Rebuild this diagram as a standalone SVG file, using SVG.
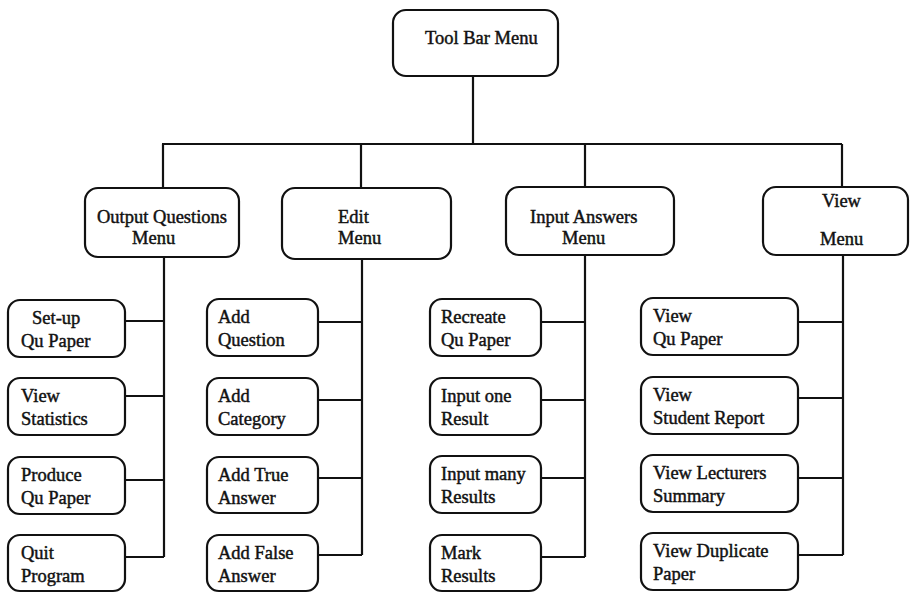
<svg xmlns="http://www.w3.org/2000/svg" width="911" height="593" viewBox="0 0 911 593">
<style>
.box{fill:#fff;stroke:#111;stroke-width:2.2}
.ln{fill:none;stroke:#111;stroke-width:2.2}
text{font-family:"Liberation Serif","Times New Roman",serif;font-size:18.5px;fill:#111;stroke:#111;stroke-width:0.45}
</style>
<rect width="911" height="593" fill="#fff"/>
<g id="connectors">
<path class="ln" d="M473 76V144M162 144H842M163 144V188M361 144V188M585 144V187M842 144V187"/>
<path class="ln" d="M164 257V557M125 321H164M125 396H164M125 480H164M125 557H164"/>
<path class="ln" d="M362 259V555M318 322H362M318 400H362M318 478H362M318 555H362"/>
<path class="ln" d="M585 255V557M541 322H585M541 400H585M541 478H585M541 557H585"/>
<path class="ln" d="M843 255V555M798 322H843M798 398H843M798 478H843M798 555H843"/>
</g>
<g id="toolbar"><rect class="box" x="393" y="10" width="165" height="66" rx="13"/><text x="425" y="44">Tool Bar Menu</text></g>
<g id="output-menu"><rect class="box" x="85" y="188" width="154" height="69" rx="13"/><text x="97" y="223">Output Questions</text><text x="132" y="244">Menu</text></g>
<g id="edit-menu"><rect class="box" x="282" y="188" width="169" height="71" rx="13"/><text x="338" y="223">Edit</text><text x="338" y="244">Menu</text></g>
<g id="input-menu"><rect class="box" x="506" y="187" width="168" height="68" rx="13"/><text x="530" y="223">Input Answers</text><text x="562" y="244">Menu</text></g>
<g id="view-menu"><rect class="box" x="763" y="187" width="145" height="68" rx="13"/><text x="822" y="207">View</text><text x="820" y="245">Menu</text></g>

<g id="setup"><rect class="box" x="8" y="300" width="117" height="57" rx="12"/><text x="32" y="324">Set-up</text><text x="21" y="347">Qu Paper</text></g>
<g id="viewstats"><rect class="box" x="8" y="378" width="117" height="57" rx="12"/><text x="21" y="402">View</text><text x="21" y="425">Statistics</text></g>
<g id="produce"><rect class="box" x="8" y="457" width="117" height="57" rx="12"/><text x="21" y="481">Produce</text><text x="21" y="504">Qu Paper</text></g>
<g id="quit"><rect class="box" x="8" y="535" width="117" height="56" rx="12"/><text x="21" y="559">Quit</text><text x="21" y="582">Program</text></g>

<g id="addq"><rect class="box" x="207" y="299" width="111" height="57" rx="12"/><text x="218" y="323">Add</text><text x="218" y="346">Question</text></g>
<g id="addcat"><rect class="box" x="207" y="378" width="111" height="57" rx="12"/><text x="218" y="402">Add</text><text x="218" y="425">Category</text></g>
<g id="addtrue"><rect class="box" x="207" y="457" width="111" height="56" rx="12"/><text x="218" y="481">Add True</text><text x="218" y="504">Answer</text></g>
<g id="addfalse"><rect class="box" x="207" y="535" width="111" height="56" rx="12"/><text x="218" y="559">Add False</text><text x="218" y="582">Answer</text></g>

<g id="recreate"><rect class="box" x="430" y="299" width="111" height="57" rx="12"/><text x="441" y="323">Recreate</text><text x="441" y="346">Qu Paper</text></g>
<g id="inputone"><rect class="box" x="430" y="378" width="111" height="57" rx="12"/><text x="441" y="402">Input one</text><text x="441" y="425">Result</text></g>
<g id="inputmany"><rect class="box" x="430" y="456" width="111" height="57" rx="12"/><text x="441" y="480">Input many</text><text x="441" y="503">Results</text></g>
<g id="mark"><rect class="box" x="430" y="535" width="111" height="56" rx="12"/><text x="441" y="559">Mark</text><text x="441" y="582">Results</text></g>

<g id="viewqu"><rect class="box" x="641" y="298" width="157" height="57" rx="12"/><text x="653" y="322">View</text><text x="653" y="345">Qu Paper</text></g>
<g id="viewstudent"><rect class="box" x="641" y="377" width="157" height="57" rx="12"/><text x="653" y="401">View</text><text x="653" y="424">Student Report</text></g>
<g id="viewlect"><rect class="box" x="641" y="455" width="157" height="57" rx="12"/><text x="653" y="479">View Lecturers</text><text x="653" y="502">Summary</text></g>
<g id="viewdup"><rect class="box" x="641" y="533" width="157" height="57" rx="12"/><text x="653" y="557">View Duplicate</text><text x="653" y="580">Paper</text></g>
</svg>
